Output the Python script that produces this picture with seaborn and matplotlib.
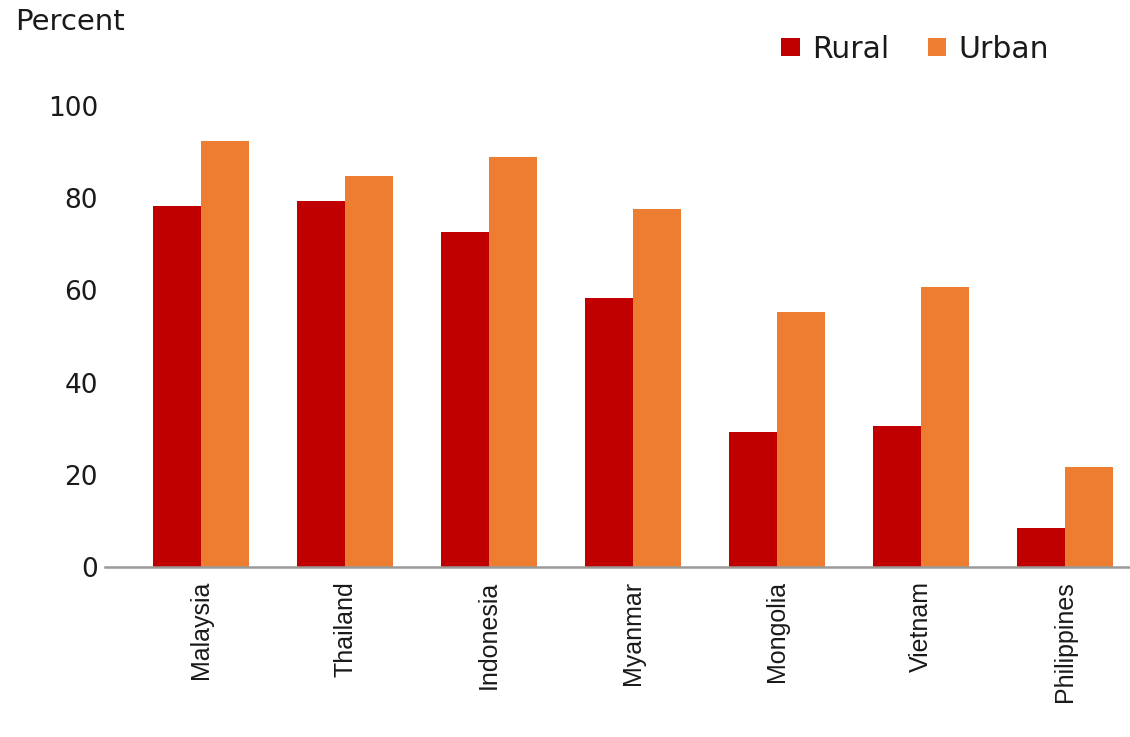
import matplotlib
matplotlib.use("Agg")
import matplotlib.pyplot as plt
import seaborn as sns
import pandas as pd

countries = ["Malaysia", "Thailand", "Indonesia", "Myanmar", "Mongolia", "Vietnam", "Philippines"]
rural = [78.3, 79.4, 72.7, 58.4, 29.3, 30.6, 8.5]
urban = [92.4, 84.8, 88.9, 77.7, 55.3, 60.7, 21.7]
y_ticks = [0, 20, 40, 60, 80, 100]

df = pd.DataFrame({"Country": countries * 2,
                   "Area": ["Rural"] * len(countries) + ["Urban"] * len(countries),
                   "Value": rural + urban})

sns.set_theme(style="white")
plt.rcParams["font.family"] = ["DejaVu Sans"]
plt.rcParams["text.color"] = "#1a1a1a"

fig = plt.figure(figsize=(11.3, 7.37), dpi=100)
ax = fig.add_axes([105 / 1130, 1 - 567 / 737, 1025 / 1130, (567 - 106) / 737])

sns.barplot(data=df, x="Country", y="Value", hue="Area",
            palette={"Rural": "#C00000", "Urban": "#ED7D31"},
            width=0.667, saturation=1, linewidth=0, ax=ax, legend=True)

ax.set_xlim(-0.667, 6.45)
ax.set_ylim(0, 100)
ax.set_yticks(y_ticks)
ax.set_yticklabels([str(t) for t in y_ticks], fontsize=19, color="#1a1a1a")
ax.tick_params(axis="y", length=0, pad=5)
ax.tick_params(axis="x", length=0, pad=10)
ax.set_xticks(range(len(countries)))
ax.set_xticklabels(countries, rotation=90, fontsize=18, va="top",
                   family="Liberation Sans", color="#1a1a1a")
ax.set_xlabel("")
ax.set_ylabel("")
for s in ["top", "right", "left"]:
    ax.spines[s].set_visible(False)
ax.spines["bottom"].set_color("#999999")
ax.spines["bottom"].set_linewidth(1.8)

fig.text(15 / 1130, 1 - 22 / 737, "Percent", fontsize=21, va="center", ha="left")

handles, labels = ax.get_legend_handles_labels()
ax.legend(handles, labels, loc="center", bbox_to_anchor=(915 / 1130, 1 - 49 / 737),
          bbox_transform=fig.transFigure, ncol=2, frameon=False, fontsize=21.5,
          handlelength=0.62, handleheight=0.55, handletextpad=0.4, columnspacing=1.3)

fig.savefig("out.png", dpi=100)
